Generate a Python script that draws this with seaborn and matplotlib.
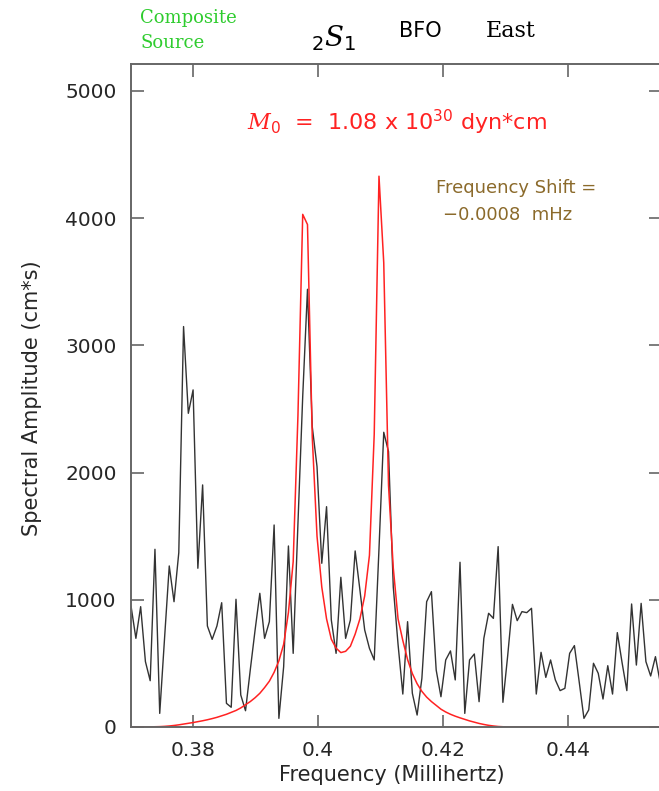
import seaborn as sns
import matplotlib.pyplot as plt
import numpy as np
import pandas as pd

# frequency grid of the spectrum (mHz)
F_START = 0.3701
F_STEP = 0.000763

# observed spectrum, BFO east component (cm*s)
observed = [946, 697, 946, 514, 364, 1397, 107, 690, 1266, 985,
            1371, 3148, 2466, 2650, 1248, 1903, 794, 689, 794, 977,
            186, 155, 1004, 252, 128, 450, 760, 1051, 697, 828,
            1588, 68, 474, 1423, 579, 1600, 2600, 3441, 2361, 2047,
            1287, 1732, 841, 579, 1177, 697, 841, 1384, 1077, 763,
            618, 527, 1400, 2317, 2165, 1100, 650, 259, 828, 265,
            94, 383, 985, 1064, 448, 238, 527, 598, 370, 1295,
            107, 527, 574, 199, 697, 894, 854, 1418, 194, 560,
            964, 836, 907, 899, 933, 259, 587, 390, 527, 370,
            286, 304, 579, 640, 356, 68, 134, 501, 422, 220,
            482, 259, 742, 506, 286, 967, 487, 972, 514, 401,
            553, 350]

# synthetic spectrum (cm*s)
synthetic = [0, 0, 0, 0, 1, 2, 3, 5, 8, 12,
             17, 23, 29, 35, 42, 49, 57, 66, 76, 88,
             100, 115, 130, 150, 175, 200, 230, 265, 310, 360,
             430, 520, 650, 900, 1300, 2450, 4030, 3950, 2280, 1500,
             1100, 850, 690, 620, 585, 595, 635, 730, 850, 1030,
             1350, 2300, 4330, 3650, 1900, 1250, 850, 680, 530, 420,
             340, 280, 235, 200, 170, 140, 118, 100, 85, 72,
             60, 48, 38, 28, 20, 13, 8, 4, 2, 0,
             0, 0, 0, 0, 0, 0, 0, 0, 0, 0,
             0, 0, 0, 0, 0, 0, 0, 0, 0, 0,
             0, 0, 0, 0, 0, 0, 0, 0, 0, 0,
             0, 0]

x_ticks = [0.38, 0.40, 0.42, 0.44]
x_tick_labels = ["0.38", "0.4", "0.42", "0.44"]
y_ticks = [0, 1000, 2000, 3000, 4000, 5000]

freq = F_START + F_STEP * np.arange(len(observed))
df = pd.DataFrame({"freq": freq, "observed": observed, "synthetic": synthetic})

sns.set_theme(style="ticks")
plt.rcParams["font.family"] = ["DejaVu Sans"]
plt.rcParams["mathtext.fontset"] = "custom"
plt.rcParams["mathtext.rm"] = "DejaVu Sans"
plt.rcParams["mathtext.it"] = "DejaVu Serif:italic"

W, H = 659, 791
fig = plt.figure(figsize=(W / 100, H / 100), dpi=100)
ax = fig.add_axes([130.5 / W, (H - 727) / H, 531 / W, (727 - 64) / H])

sns.lineplot(data=df, x="freq", y="observed", ax=ax, color="#333333", lw=1.0,
             estimator=None, sort=False)
sns.lineplot(data=df, x="freq", y="synthetic", ax=ax, color="#ff2222", lw=1.1,
             estimator=None, sort=False)

ax.set_xlim(0.37, 0.455)
ax.set_ylim(0, 5212)
ax.set_xticks(x_ticks)
ax.set_xticklabels(x_tick_labels)
ax.set_yticks(y_ticks)
ax.set_xlabel("")
ax.set_ylabel("")
ax.tick_params(direction="in", length=9, width=1.2, top=True, right=True,
               color="#666666", labelsize=14.5, pad=10)
for s in ax.spines.values():
    s.set_color("#666666")
    s.set_linewidth(1.4)

def px(x, y):
    return x / W, 1 - y / H

fig.text(*px(32, 398), "Spectral Amplitude (cm*s)", rotation=90,
         ha="center", va="center", fontsize=15)
fig.text(*px(392, 775), "Frequency (Millihertz)", ha="center", va="center",
         fontsize=15)

fig.text(*px(140, 18), "Composite", ha="left", va="center", fontsize=13,
         color="#2ecc2e", family="DejaVu Serif")
fig.text(*px(140, 43), "Source", ha="left", va="center", fontsize=13,
         color="#2ecc2e", family="DejaVu Serif")
fig.text(*px(334, 38), r"${}_{\mathit{2}}S_{\mathit{1}}$", ha="center",
         va="center", fontsize=20, color="black")
fig.text(*px(420, 31), "BFO", ha="center", va="center", fontsize=15,
         color="black")
fig.text(*px(511, 31), "East", ha="center", va="center", fontsize=16,
         color="black", family="DejaVu Serif")

fig.text(*px(397, 122), r"$M_{\mathit{0}}$  =  1.08 x 10$^{30}$ dyn*cm",
         ha="center", va="center", fontsize=16, color="#ff2222")
fig.text(*px(516, 188), "Frequency Shift =", ha="center", va="center",
         fontsize=13, color="#8b6a2b")
fig.text(*px(508, 215), "\u22120.0008  mHz", ha="center", va="center",
         fontsize=13, color="#8b6a2b")

fig.savefig("out.png", dpi=100)
